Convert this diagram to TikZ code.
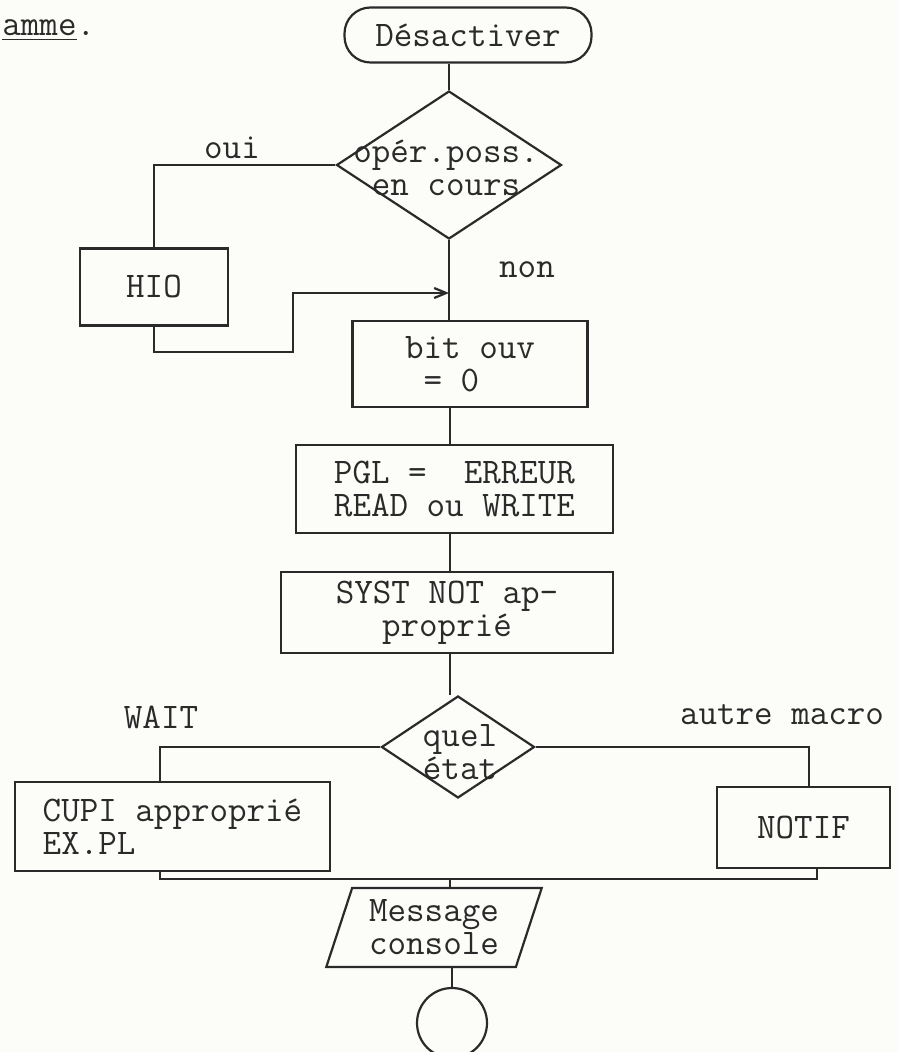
\documentclass[tikz,border=0pt]{standalone}
\usetikzlibrary{arrows.meta,shapes.geometric}
\definecolor{paper}{HTML}{FCFCF9}
\definecolor{ink}{HTML}{2A2A2A}

\begin{document}
\begin{tikzpicture}[
  x=0.5pt,
  y=-0.5pt,
  every node/.style={font=\fontsize{18}{16.5}\selectfont\ttfamily, text=ink},
  link/.style={draw=ink, line width=1.1pt},
  flow/.style={link, -{Straight Barb[length=6pt, width=5pt]}},
  box/.style={draw=ink, line width=1.1pt, inner sep=2pt, align=center},
  terminal/.style={box, rounded corners=13pt},
  decision/.style={draw=ink, line width=1.1pt, diamond, inner sep=0pt},
  iobox/.style={draw=ink, line width=1.1pt, trapezium, trapezium left angle=71,
                trapezium right angle=109, trapezium stretches=true,
                inner sep=2pt, align=center},
  stopnode/.style={draw=ink, line width=1.1pt, circle, inner sep=0pt, minimum size=35pt},
  branch/.style={inner sep=0pt}
]
  % ---- page, same size as the scan ----
  \useasboundingbox (0,0) rectangle (898,1052);
  \fill[paper] (0,0) rectangle (898,1052);

  \node[anchor=base west, inner sep=0pt] (titre) at (2,36) {\underline{amme}.};

  % ---- main column ----
  \coordinate (col) at (450,0);
  \node[terminal, minimum width=123.5pt, minimum height=27.5pt] (start) at (468,35) {Désactiver};
  \node[decision, minimum width=112.5pt, minimum height=74pt] (poss) at (449,165) {};
  \node[align=center, inner sep=0pt] (posstxt) at (446,168) {opér.poss.\\en cours};
  \node[box, minimum width=117.5pt, minimum height=43pt, align=left] (bit) at (470,364) {bit ouv\\\ = 0\hspace*{1.5em}};
  \node[box, minimum width=158.5pt, minimum height=44pt] (pgl) at (454.5,489) {PGL =\ \ ERREUR\\READ ou WRITE};
  \node[box, minimum width=166pt, minimum height=40.5pt] (syst) at (447,612.5) {SYST NOT ap-\\proprié};
  \node[decision, minimum width=76.5pt, minimum height=51pt] (etat) at (458,747) {};
  \node[align=center, inner sep=0pt] (etattxt) at (460,752) {quel\\état};
  \node[iobox, minimum width=108pt, minimum height=39.5pt] (msg) at (434,927.5) {Message\\console};
  \node[stopnode] (fin) at (452,1023) {};

  % ---- side boxes ----
  \node[box, minimum width=74pt, minimum height=38.5pt] (hio) at (154,287) {HIO};
  \node[box, minimum width=157.5pt, minimum height=44.5pt, align=left] (cupi) at (172.5,826.5) {CUPI approprié\\EX.PL};
  \node[box, minimum width=86.5pt, minimum height=40.5pt] (notif) at (803.5,827.5) {NOTIF};

  % ---- branch labels ----
  \node[branch] (oui) at (232,148) {oui};
  \node[branch] (non) at (527,270) {non};
  \node[branch] (wait) at (161,717) {WAIT};
  \node[branch] (autre) at (782,715) {autre macro};

  % ---- connectors ----
  \coordinate (hiojog) at (293,352);
  \coordinate (hiojoin) at (449,293);
  \coordinate (waitx) at (160,0);
  \coordinate (autrex) at (809,0);
  \coordinate (mergel) at (160,879);
  \coordinate (merger) at (817,879);

  \draw[link] (start.south -| poss.north) -- (poss.north);
  \draw[link] (poss.west) -| (hio.north);
  \draw[link] (poss.south) -- (poss.south |- bit.north);
  \draw[flow] (hio.south) |- (hiojog) |- (hiojoin);
  \draw[link] (col |- bit.south) -- (col |- pgl.north);
  \draw[link] (col |- pgl.south) -- (col |- syst.north);
  \draw[link] (col |- syst.south) -- (col |- etat.north);
  \draw[link] (etat.west) -| (waitx |- cupi.north);
  \draw[link] (etat.east) -| (autrex |- notif.north);
  \draw[link] (mergel |- cupi.south) -- (mergel) -- (merger) -- (merger |- notif.south);
  \draw[link] (col |- mergel) -- (col |- msg.north);
  \draw[link] (fin.north |- msg.south) -- (fin.north);
\end{tikzpicture}
\end{document}
